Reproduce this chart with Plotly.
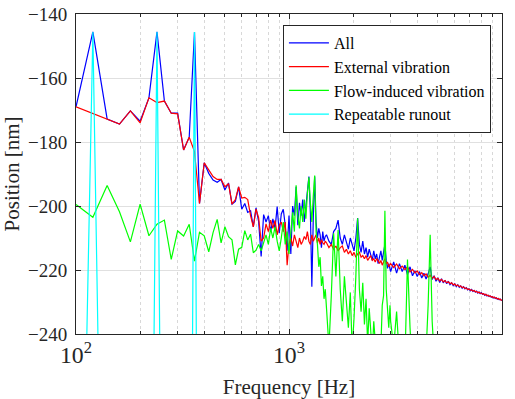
import plotly.graph_objects as go

# Frequency grid [Hz]
freq = (list(range(100, 700, 20)) + list(range(700, 1500, 20))
        + list(range(1500, 3000, 40)) + list(range(3000, 10001, 100)))

all_vals = [
    # 100-680 Hz
    -169, -145.6, -172.8, -174.4, -170.3, -173.5, -166.2, -145.6, -167.2, -171,
    -171, -182.5, -178.5, -145.6, -199.2, -186.5, -189.8, -191.9, -192.6, -191.7,
    -195, -192.8, -199.4, -198.6, -194, -201, -199.2, -202, -201.5, -206.5,
    # 700-1480 Hz
    -200.6, -204.8, -215.8, -202.7, -205, -203, -208, -204, -207, -200.2,
    -208.5, -202.5, -201, -206, -214, -203, -215, -200, -203, -194,
    -206, -199, -203, -198, -205, -200, -196, -190.8, -202, -225.2,
    -204, -190.8, -205, -210, -207, -209, -213, -208, -211, -209.5,
    # 1500-2980 Hz
    -209, -211, -212, -208, -207, -204.4, -210, -212, -209, -211,
    -213.5, -210, -212, -214, -210, -203.8, -212, -214.5, -211, -215,
    -213, -216, -213.5, -215, -217, -214, -216.5, -215, -218, -216,
    -214, -217, -213.8, -212, -217, -219.5, -218, -220.5,
    # 3000-10000 Hz
    -220.5, -217.5, -221.0, -218.0, -220.5, -218.5, -221.5, -219.0, -221.8, -220.2,
    -222.0, -220.5, -222.5, -221.0, -222.8, -221.2, -219.0, -223.0, -221.8, -223.5,
    -222.4, -223.9, -222.7, -224.0, -223.2, -224.3, -223.5, -224.6, -224.0, -224.9,
    -224.3, -225.2, -224.6, -225.4, -225.0, -225.7, -225.2, -225.9, -225.5, -226.2,
    -225.9, -226.5, -226.1, -226.7, -226.4, -226.9, -226.6, -227.2, -226.9, -227.4,
    -227.1, -227.6, -227.4, -227.9, -227.6, -228.1, -227.9, -228.3, -228.1, -228.5,
    -228.3, -228.7, -228.5, -228.9, -228.7, -229.1, -228.9, -229.3, -229.1, -229.4,
    -229.5,
]

external_vals = [
    -169, -171.0, -172.8, -174.4, -170.3, -174, -166.2, -167.7, -167.2, -171,
    -171.2, -182.5, -178.5, -183, -199.2, -186.5, -188.7, -190.8, -191.7, -191.7,
    -194, -193, -199.4, -198, -194, -197.5, -197.3, -198, -203, -206.5,
    -201, -203.6, -211, -210, -205.6, -208, -204.4, -207, -204.5, -209,
    -206, -205, -208, -205, -218.5, -212, -210, -212.5, -209, -211,
    -213, -210, -212, -211, -209.5, -210.5, -208, -211, -212, -209,
    -211, -210, -209, -211.5, -210, -212, -210.5, -211.5, -212, -211,
    -211.5, -213, -212, -213.5, -212.5, -214, -213, -212.5, -214.5, -213.5,
    -215, -214, -215.5, -214.5, -216, -215, -214.5, -216, -215.5, -216.5,
    -215.5, -217, -216, -215.5, -217, -216.5, -217.5, -216.5, -217, -218,
    -217, -218.5, -217.5, -216.5, -218, -217.5, -219, -218,
    -218.0, -219.2, -218.1, -219.6, -218.8, -219.9, -219.0, -220.6, -219.8, -220.9,
    -220.3, -221.4, -220.8, -221.8, -221.2, -222.3, -221.6, -222.6, -222.0, -223.0,
    -222.6, -223.4, -222.9, -223.7, -223.3, -224.0, -223.7, -224.3, -224.0, -224.6,
    -224.4, -224.9, -224.7, -225.2, -225.0, -225.5, -225.3, -225.8, -225.6, -226.1,
    -225.9, -226.3, -226.2, -226.6, -226.4, -226.8, -226.7, -227.1, -226.9, -227.3,
    -227.2, -227.5, -227.4, -227.8, -227.6, -228.0, -227.9, -228.2, -228.1, -228.4,
    -228.3, -228.6, -228.5, -228.8, -228.7, -229.0, -228.9, -229.2, -229.1, -229.4,
    -229.4,
]

flow_vals = [
    -199.5, -203.5, -193.6, -201.8, -211.2, -199.4, -209.3, -205.7, -204.4, -216.7,
    -207.8, -209.4, -205.7, -217.2, -208.2, -209.3, -214.3, -208.3, -204.2, -211.5,
    -206.5, -209.6, -210.6, -218.4, -213.5, -212.9, -207.7, -210.6, -208.8, -214.6,
    -213.8, -212, -214, -211, -209, -212, -207, -210, -206.5, -211,
    -214, -210, -205, -212, -208, -215, -207, -202, -208, -193.5,
    -203, -207, -200, -205, -198, -204, -196, -191, -199, -205,
    -197, -190.5, -208, -212, -219, -216, -225, -222, -229, -226,
    -232, -244, -228, -208.5, -222, -207.5, -226, -236, -222, -230,
    -238, -227, -245, -235, -222, -203.8, -226, -233, -224, -237,
    -229, -243, -232, -239, -246, -236, -242, -248, -241, -250,
    -244, -231, -228, -201.5, -226, -233, -238, -231,
    -236, -244, -233, -248, -252, -249, -216.7, -238, -252, -255,
    -258, -254, -259, -251, -246, -231, -209, -236, -250, -257,
    -260, -262, -258, -263, -261, -265, -262, -266, -264, -268,
    -266, -270, -267, -271, -269, -272, -270, -274, -271, -275,
    -273, -276, -274, -277, -275, -279, -276, -280, -278, -281,
    -279, -282, -280, -284, -281, -285, -283, -286, -284, -287,
    -285, -288, -286, -289, -287, -290, -288, -291, -289, -292,
    -290,
]

rro_freq = list(range(100, 420, 20))
rro_vals = [-410, -145.6, -412, -405, -420, -408, -406, -145.6, -404, -415,
            -410, -418, -403, -145.6, -405, -412]

assert len(all_vals) == len(freq) == len(external_vals) == len(flow_vals)
assert len(rro_vals) == len(rro_freq)

names = ["All", "External vibration", "Flow-induced vibration", "Repeatable runout"]
colors = ["#0000ff", "#ff0000", "#00ff00", "#00ffff"]

FAM = "Liberation Serif"
axcol = "#262626"

fig = go.Figure()
for xs, ys, name, c in zip([freq, freq, freq, rro_freq],
                           [all_vals, external_vals, flow_vals, rro_vals],
                           names, colors):
    fig.add_trace(go.Scatter(x=xs, y=ys, mode="lines", name=name,
                             line=dict(color=c, width=1.2)))

fig.update_xaxes(type="log", range=[2, 4], dtick=1, exponentformat="power",
                 showline=True, linecolor=axcol, linewidth=1, mirror="allticks",
                 ticks="inside", ticklen=5, tickcolor=axcol, tickwidth=1,
                 showgrid=True, gridcolor="#e0e0e0", gridwidth=1, zeroline=False,
                 tickfont=dict(size=19, color=axcol, family=FAM),
                 title=dict(text="Frequency [Hz]",
                            font=dict(size=21, color=axcol, family=FAM)),
                 minor=dict(dtick="D1", ticks="inside", ticklen=3, tickcolor=axcol,
                            showgrid=True, gridcolor="#d8d8d8", griddash="dot"))
fig.update_yaxes(range=[-240, -140], dtick=20,
                 showline=True, linecolor=axcol, linewidth=1, mirror="allticks",
                 ticks="inside", ticklen=5, tickcolor=axcol, tickwidth=1,
                 showgrid=True, gridcolor="#e0e0e0", gridwidth=1, zeroline=False,
                 tickfont=dict(size=19, color=axcol, family=FAM),
                 title=dict(text="Position [nm]",
                            font=dict(size=21, color=axcol, family=FAM)),
                 ticklabelstandoff=4)

fig.update_layout(
    width=515, height=399,
    margin=dict(l=76, r=13, t=14, b=65, autoexpand=False),
    paper_bgcolor="white", plot_bgcolor="white",
    font=dict(family=FAM, color=axcol),
    legend=dict(x=0.974, y=0.966, xanchor="right", yanchor="top",
                bgcolor="white", bordercolor=axcol, borderwidth=1,
                font=dict(size=16, color="black", family=FAM), tracegroupgap=0,
                itemwidth=40),
    showlegend=True,
)

fig.write_html("out.html")
